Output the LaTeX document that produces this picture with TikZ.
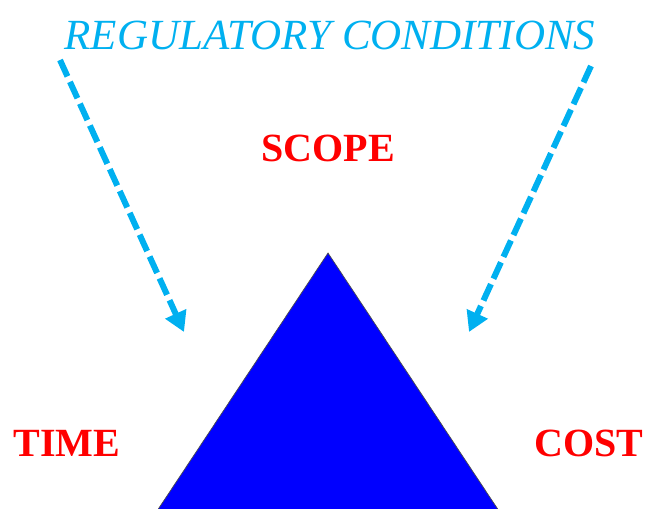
\documentclass[tikz,border=0pt]{standalone}
\usepackage{fontspec}
\setmainfont{Liberation Serif}
\usetikzlibrary{arrows.meta}
\definecolor{regblue}{RGB}{0,176,240}
\definecolor{labred}{RGB}{255,0,0}
\definecolor{triblue}{RGB}{0,0,255}
\tikzset{
  label3/.style={text=labred,font=\bfseries\fontsize{40}{40}\selectfont,inner sep=0pt},
  regarrow/.style={draw=regblue,line width=6pt,dash pattern=on 18pt off 6pt,
    -{Triangle[length=20pt,width=22pt]}}
}
\begin{document}
\begin{tikzpicture}[x=1pt,y=-1pt]
\useasboundingbox (0,0) rectangle (646,509);
\node[text=regblue,font=\itshape\fontsize{43}{43}\selectfont,inner sep=0pt] (title) at (330,35) {REGULATORY CONDITIONS};
\node[label3] (scope) at (328,148) {SCOPE};
\node[label3] (time) at (67,443) {TIME};
\node[label3] (cost) at (589,443) {COST};
\coordinate (apex) at (328,253);
\coordinate (bl) at (157,511);
\coordinate (br) at (499,511);
\fill[triblue] (apex) -- (br) -- (bl) -- cycle;
\draw[black!70,line width=0.7pt] (bl) -- (apex) -- (br);
\coordinate (ls) at (60,60);
\coordinate (le) at (184,332);
\coordinate (rs) at (591,66);
\coordinate (re) at (469,332);
\draw[regarrow] (ls) -- (le);
\draw[regarrow] (rs) -- (re);
\end{tikzpicture}
\end{document}
